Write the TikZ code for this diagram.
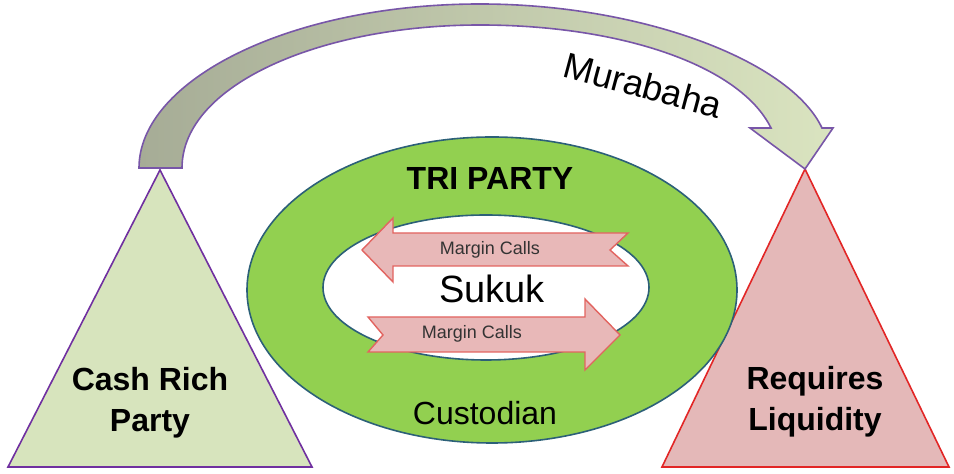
\documentclass[tikz,border=0pt]{standalone}
\usepackage{fontspec}
\setmainfont{Liberation Sans}
\usepackage{xcolor}
\usepackage{tikz}
\usetikzlibrary{positioning, shapes.geometric}
\definecolor{muraLine}{RGB}{120, 86, 168}
\definecolor{muraDark}{RGB}{166, 172, 150}
\definecolor{muraLight}{RGB}{218, 228, 192}
\definecolor{cashLine}{RGB}{112, 48, 160}
\definecolor{cashFill}{RGB}{215, 228, 189}
\definecolor{liqLine}{RGB}{226, 38, 38}
\definecolor{liqFill}{RGB}{228, 184, 184}
\definecolor{ringFill}{RGB}{146, 208, 80}
\definecolor{ringLine}{RGB}{44, 96, 120}
\definecolor{callFill}{RGB}{232, 184, 184}
\definecolor{callLine}{RGB}{226, 100, 96}
\tikzset{
    base/.style={
        align=center,
        inner sep=0pt,
        text=black
    },
    party/.style={
        base,
        font=\fontsize{16}{20.5}\selectfont\bfseries
    },
    title/.style={
        base,
        font=\fontsize{16}{19}\selectfont\bfseries
    },
    plain/.style={
        base,
        font=\fontsize{16}{19}\selectfont
    },
    calltext/.style={
        base,
        font=\fontsize{9}{11}\selectfont,
        text=black!80
    },
    pyramid/.style={
        line width=0.8pt,
        line join=miter
    },
    callarrow/.style={
        fill=callFill,
        draw=callLine,
        line width=0.7pt
    },
    ring/.style={
        draw=ringLine,
        line width=0.8pt
    }
}

\begin{document}
\begin{tikzpicture}[x=0.5pt, y=-0.5pt]
  \useasboundingbox (0,0) rectangle (954,474);

  % Parties
  \coordinate (cashapex) at (160,170);
  \coordinate (liqapex) at (805,169);
  \draw[pyramid, draw=cashLine, fill=cashFill] (cashapex) -- (312,467) -- (8,467) -- cycle;
  \draw[pyramid, draw=liqLine, fill=liqFill] (liqapex) -- (949,467) -- (662,467) -- cycle;
  \node[party] (cash) at (150,403) {Cash Rich\\Party};
  \node[party] (liq) at (815,402) {Requires\\Liquidity};

  % Murabaha
  \shadedraw[left color=muraDark, right color=muraLight, draw=muraLine, line width=0.8pt, line join=miter]
    (139,168) .. controls (139,80) and (290,4) .. (480,4)
    .. controls (640,4) and (790,60) .. (822,128)
    -- (833,128) -- (liqapex) -- (750,128) -- (771,128)
    .. controls (740,65) and (620,25) .. (480,25)
    .. controls (320,25) and (182,85) .. (182,168) -- cycle;
  \node[plain, font=\fontsize{18}{20}\selectfont, rotate=-15] (mura) at (643,85) {Murabaha};

  % Custodian ring
  \draw[ring, fill=ringFill] (492,290) ellipse [x radius=122.5pt, y radius=76.5pt];
  \draw[ring, fill=white] (486,287.5) ellipse [x radius=81.5pt, y radius=36.25pt];
  \node[title] (tri) at (490,179) {TRI PARTY};
  \node[plain] (cust) at (485,413) {Custodian};
  \node[plain, font=\fontsize{19}{22}\selectfont] (sukuk) at (492,289) {Sukuk};

  % Margin calls
  \draw[callarrow] (362,250) -- (393,218) -- (393,233) -- (628,233) -- (610,250)
    -- (628,266) -- (393,266) -- (393,282) -- cycle;
  \draw[callarrow] (620,335) -- (585,299) -- (585,317) -- (368,317) -- (383,335)
    -- (368,352) -- (585,352) -- (585,370) -- cycle;
  \node[calltext] (calltop) at (490,250) {Margin Calls};
  \node[calltext] (callbot) at (472,334) {Margin Calls};

\end{tikzpicture}
\end{document}
